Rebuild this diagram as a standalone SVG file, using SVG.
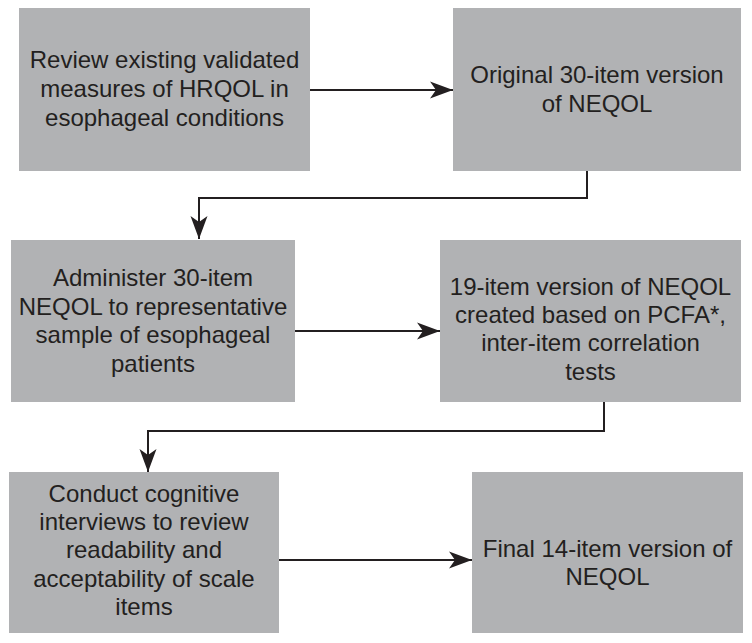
<svg xmlns="http://www.w3.org/2000/svg" width="752" height="643" viewBox="0 0 752 643">
<style>
.box{fill:#b1b2b4;}
.t{font-family:"Liberation Sans",Arial,sans-serif;font-size:24px;fill:#231f20;text-anchor:middle;}
.c{fill:none;stroke:#231f20;stroke-width:2;}
</style>
<defs>
<marker id="ah" markerUnits="userSpaceOnUse" markerWidth="26" markerHeight="20" viewBox="-24 -10 26 20" refX="0" refY="0" orient="auto">
<path d="M0,0 L-23,-8.5 L-17,0 L-23,8.5 Z" fill="#231f20"/>
</marker>
</defs>
<rect width="752" height="643" fill="#ffffff"/>
<g id="connectors">
<path class="c" d="M310,90 L453,90" marker-end="url(#ah)"/>
<path class="c" d="M587,171 L587,198 L199,198 L199,239" marker-end="url(#ah)"/>
<path class="c" d="M295,331 L440,331" marker-end="url(#ah)"/>
<path class="c" d="M604,402 L604,431 L148,431 L148,472" marker-end="url(#ah)"/>
<path class="c" d="M279,560 L472,560" marker-end="url(#ah)"/>
</g>
<g id="n1">
<rect class="box" x="19" y="8" width="291" height="163"/>
<text class="t" x="164.5" y="68">Review existing validated</text>
<text class="t" x="164.5" y="97">measures of HRQOL in</text>
<text class="t" x="164.5" y="126">esophageal conditions</text>
</g>
<g id="n2">
<rect class="box" x="453" y="8" width="288" height="163"/>
<text class="t" x="597" y="83">Original 30-item version</text>
<text class="t" x="597" y="112">of NEQOL</text>
</g>
<g id="n3">
<rect class="box" x="11" y="240" width="284" height="162"/>
<text class="t" x="153" y="286">Administer 30-item</text>
<text class="t" x="153" y="315">NEQOL to representative</text>
<text class="t" x="153" y="343">sample of esophageal</text>
<text class="t" x="153" y="372">patients</text>
</g>
<g id="n4">
<rect class="box" x="440" y="240" width="301" height="162"/>
<text class="t" x="590.5" y="295">19-item version of NEQOL</text>
<text class="t" x="590.5" y="323">created based on PCFA*,</text>
<text class="t" x="590.5" y="351">inter-item correlation</text>
<text class="t" x="590.5" y="380">tests</text>
</g>
<g id="n5">
<rect class="box" x="9" y="472" width="270" height="161"/>
<text class="t" x="144" y="502">Conduct cognitive</text>
<text class="t" x="144" y="530">interviews to review</text>
<text class="t" x="144" y="558">readability and</text>
<text class="t" x="144" y="587">acceptability of scale</text>
<text class="t" x="144" y="615">items</text>
</g>
<g id="n6">
<rect class="box" x="472" y="472" width="271" height="161"/>
<text class="t" x="607.5" y="557">Final 14-item version of</text>
<text class="t" x="607.5" y="585">NEQOL</text>
</g>
</svg>
